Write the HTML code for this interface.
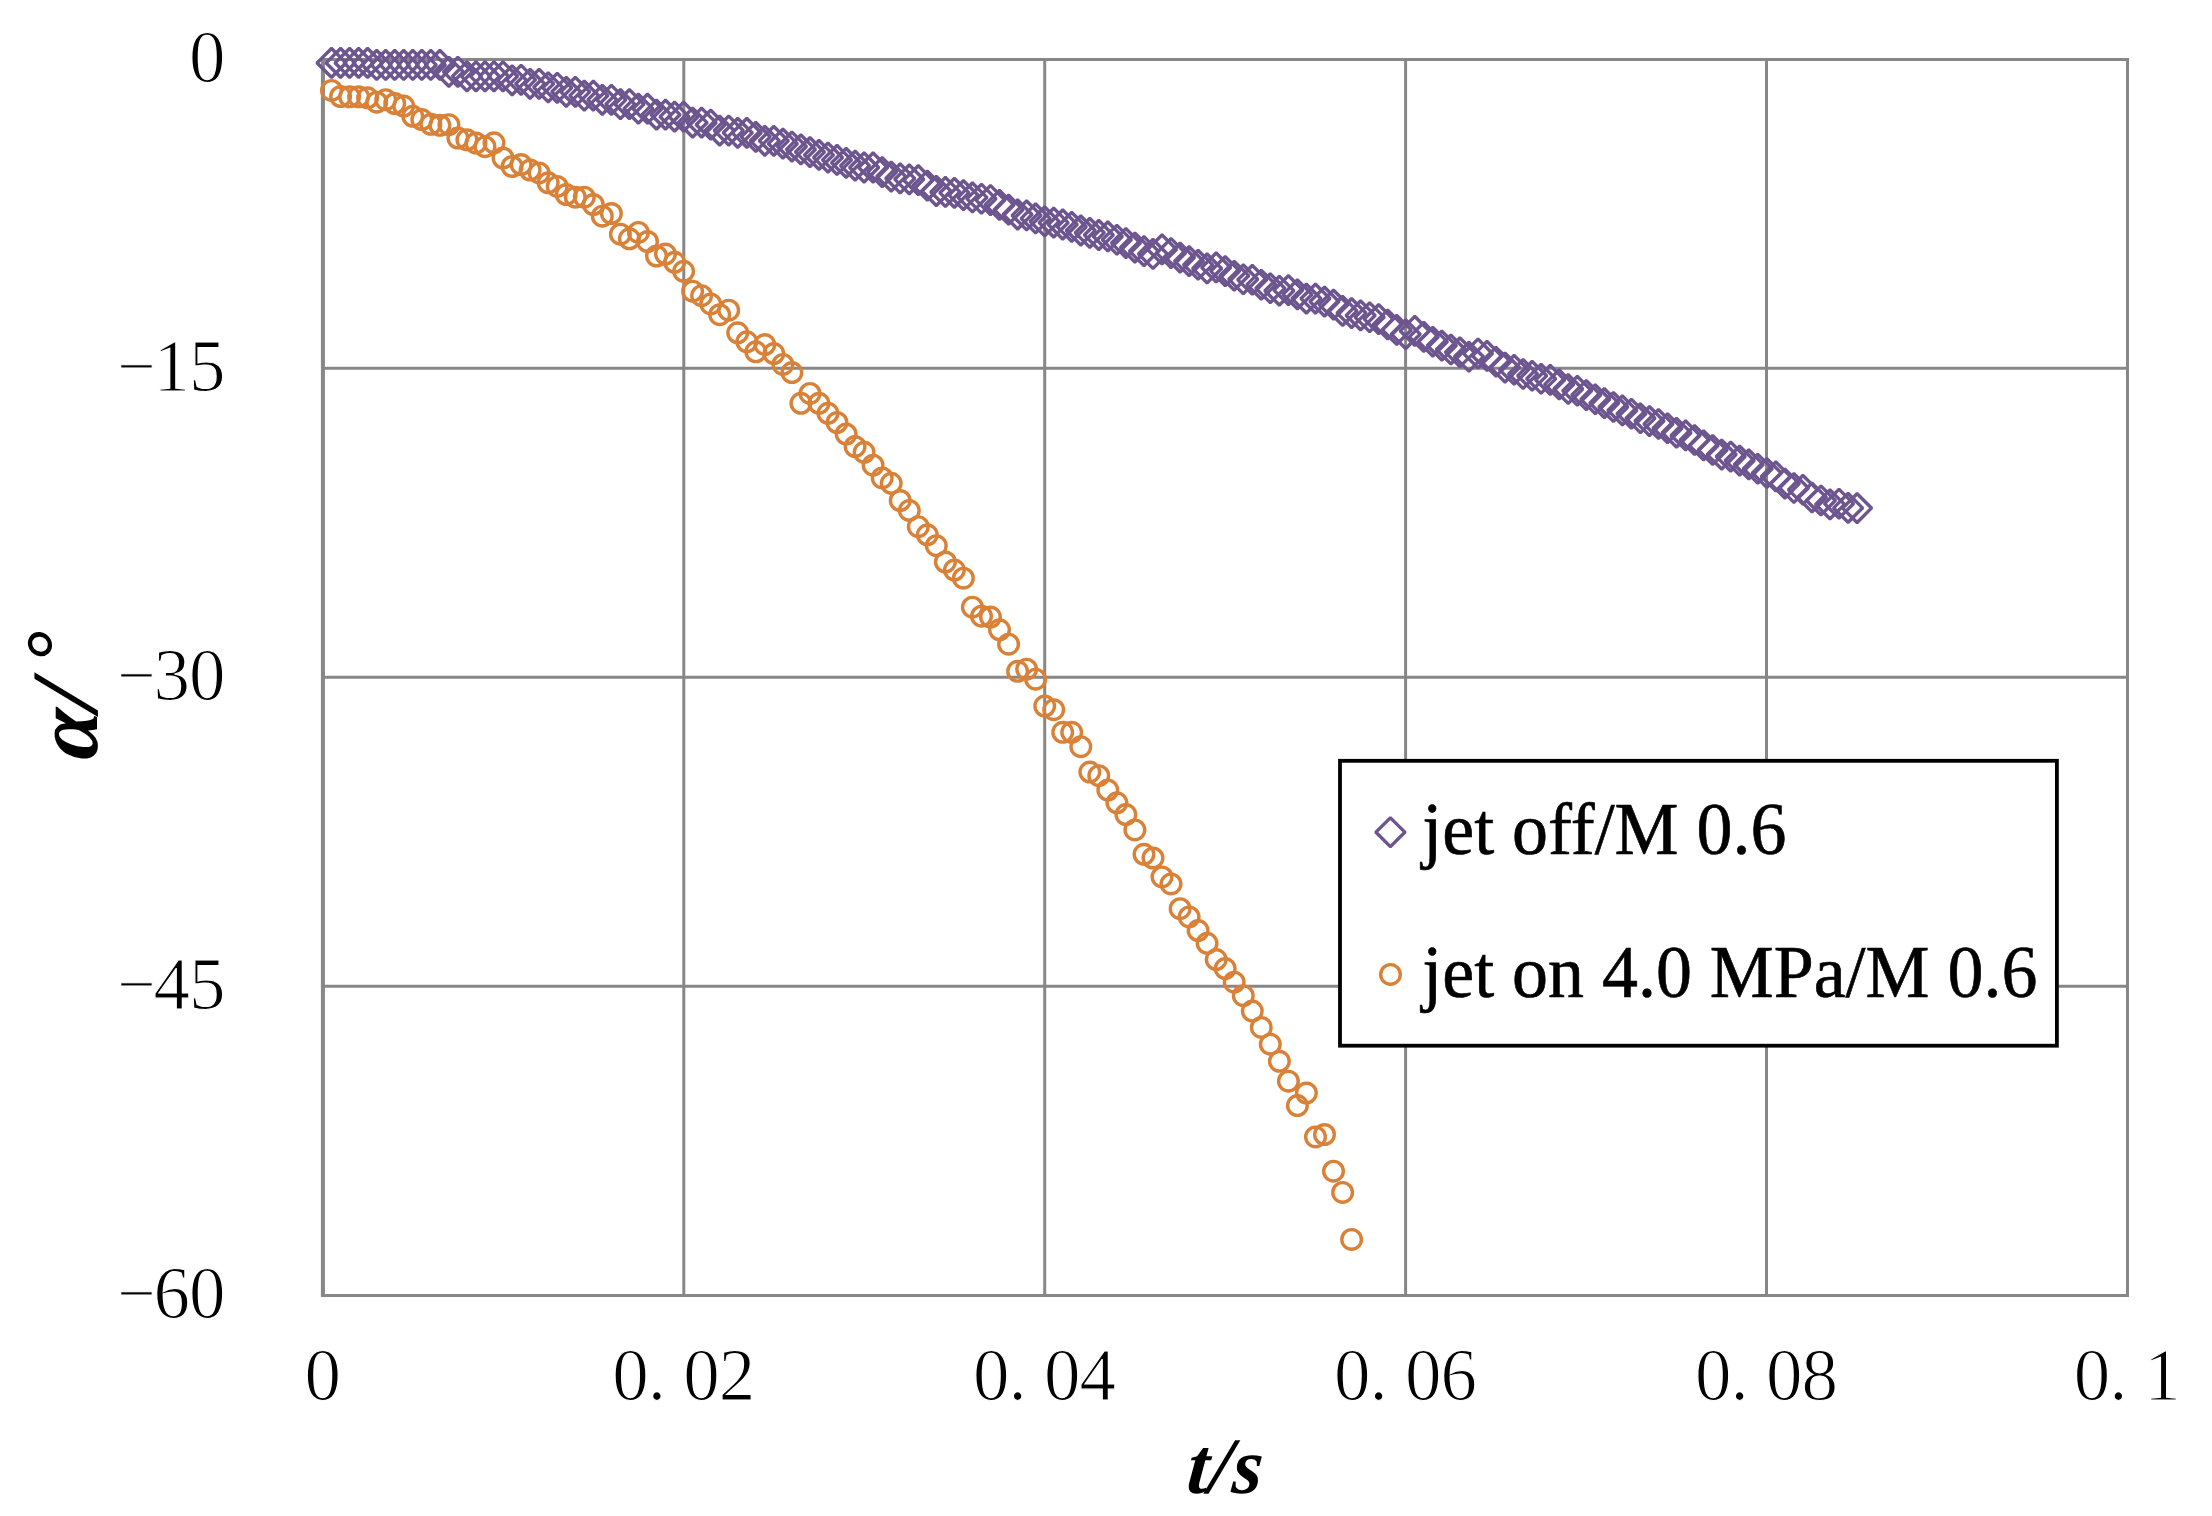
<!DOCTYPE html>
<html lang="en"><head><meta charset="utf-8"><title>α/° vs t/s</title>
<style>
html,body{margin:0;padding:0;background:#fff}
body{width:2212px;height:1516px;overflow:hidden;position:relative}
svg{position:absolute;left:0;top:0;display:block}
text{font-family:"Liberation Serif",serif;fill:#000}
.tk{font-size:73px;stroke:#fff;stroke-width:1.2px}
.lg{font-size:71.9px;stroke:#000;stroke-width:0.6px}
.ti{font-size:77px;font-weight:bold;font-style:italic;letter-spacing:1.2px}
.yt{font-size:90px;font-weight:bold;font-style:italic}
.g{stroke:#878787;stroke-width:3;fill:none}
.d{stroke:#6d558f;stroke-width:3.4;fill:none;stroke-linejoin:miter}
.c{stroke:#da8138;stroke-width:3.4;fill:none}
</style></head><body>
<svg width="2212" height="1516" viewBox="0 0 2212 1516">
<rect width="2212" height="1516" fill="#fff"/>
<g class="g">
<line x1="321.4" y1="59.4" x2="2129.0" y2="59.4"/>
<line x1="321.4" y1="368.2" x2="2129.0" y2="368.2"/>
<line x1="321.4" y1="677.3" x2="2129.0" y2="677.3"/>
<line x1="321.4" y1="986.3" x2="2129.0" y2="986.3"/>
<line x1="321.4" y1="1295.4" x2="2129.0" y2="1295.4"/>
<line x1="322.9" y1="59.4" x2="322.9" y2="1295.4"/>
<line x1="683.8" y1="59.4" x2="683.8" y2="1295.4"/>
<line x1="1044.7" y1="59.4" x2="1044.7" y2="1295.4"/>
<line x1="1405.6" y1="59.4" x2="1405.6" y2="1295.4"/>
<line x1="1766.5" y1="59.4" x2="1766.5" y2="1295.4"/>
<line x1="2127.5" y1="59.4" x2="2127.5" y2="1295.4"/>
</g>
<line x1="322.9" y1="57.9" x2="322.9" y2="1296.9" stroke="#878787" stroke-width="4"/>
<g class="d">
<path d="M331.2 48.8L331.8 48.8L345.7 62.6L345.7 63.2L331.8 77.0L331.2 77.0L317.4 63.2L317.4 62.6Z"/>
<path d="M340.3 48.8L340.9 48.8L354.7 62.6L354.7 63.2L340.9 77.0L340.3 77.0L326.4 63.2L326.4 62.6Z"/>
<path d="M349.3 48.8L349.9 48.8L363.7 62.6L363.7 63.2L349.9 77.0L349.3 77.0L335.4 63.2L335.4 62.6Z"/>
<path d="M358.3 48.8L358.9 48.8L372.8 62.6L372.8 63.2L358.9 77.0L358.3 77.0L344.5 63.2L344.5 62.6Z"/>
<path d="M367.3 48.8L367.9 48.8L381.8 62.6L381.8 63.2L367.9 77.0L367.3 77.0L353.5 63.2L353.5 62.6Z"/>
<path d="M376.4 50.8L377.0 50.8L390.8 64.6L390.8 65.2L377.0 79.1L376.4 79.1L362.5 65.2L362.5 64.6Z"/>
<path d="M385.4 50.8L386.0 50.8L399.8 64.6L399.8 65.2L386.0 79.1L385.4 79.1L371.5 65.2L371.5 64.6Z"/>
<path d="M394.4 50.8L395.0 50.8L408.9 64.6L408.9 65.2L395.0 79.1L394.4 79.1L380.6 65.2L380.6 64.6Z"/>
<path d="M403.4 50.8L404.0 50.8L417.9 64.6L417.9 65.2L404.0 79.1L403.4 79.1L389.6 65.2L389.6 64.6Z"/>
<path d="M412.5 50.8L413.1 50.8L426.9 64.6L426.9 65.2L413.1 79.1L412.5 79.1L398.6 65.2L398.6 64.6Z"/>
<path d="M421.5 50.8L422.1 50.8L435.9 64.6L435.9 65.2L422.1 79.1L421.5 79.1L407.6 65.2L407.6 64.6Z"/>
<path d="M430.5 50.8L431.1 50.8L445.0 64.6L445.0 65.2L431.1 79.1L430.5 79.1L416.7 65.2L416.7 64.6Z"/>
<path d="M439.6 50.8L440.2 50.8L454.0 64.6L454.0 65.2L440.2 79.1L439.6 79.1L425.7 65.2L425.7 64.6Z"/>
<path d="M448.6 57.6L449.2 57.6L463.0 71.5L463.0 72.1L449.2 86.0L448.6 86.0L434.7 72.1L434.7 71.5Z"/>
<path d="M457.6 57.6L458.2 57.6L472.1 71.5L472.1 72.1L458.2 86.0L457.6 86.0L443.8 72.1L443.8 71.5Z"/>
<path d="M466.6 62.1L467.2 62.1L481.1 76.0L481.1 76.6L467.2 90.5L466.6 90.5L452.8 76.6L452.8 76.0Z"/>
<path d="M475.7 62.1L476.3 62.1L490.1 76.0L490.1 76.6L476.3 90.5L475.7 90.5L461.8 76.6L461.8 76.0Z"/>
<path d="M484.7 62.1L485.3 62.1L499.1 76.0L499.1 76.6L485.3 90.5L484.7 90.5L470.8 76.6L470.8 76.0Z"/>
<path d="M493.7 62.1L494.3 62.1L508.2 76.0L508.2 76.6L494.3 90.5L493.7 90.5L479.9 76.6L479.9 76.0Z"/>
<path d="M502.7 62.1L503.3 62.1L517.2 76.0L517.2 76.6L503.3 90.5L502.7 90.5L488.9 76.6L488.9 76.0Z"/>
<path d="M511.8 66.1L512.4 66.1L526.2 80.0L526.2 80.6L512.4 94.5L511.8 94.5L497.9 80.6L497.9 80.0Z"/>
<path d="M520.8 65.6L521.4 65.6L535.2 79.5L535.2 80.1L521.4 94.0L520.8 94.0L506.9 80.1L506.9 79.5Z"/>
<path d="M529.8 69.6L530.4 69.6L544.3 83.5L544.3 84.1L530.4 98.0L529.8 98.0L516.0 84.1L516.0 83.5Z"/>
<path d="M538.8 69.6L539.4 69.6L553.3 83.5L553.3 84.1L539.4 98.0L538.8 98.0L525.0 84.1L525.0 83.5Z"/>
<path d="M547.9 73.1L548.5 73.1L562.3 87.0L562.3 87.6L548.5 101.5L547.9 101.5L534.0 87.6L534.0 87.0Z"/>
<path d="M556.9 73.6L557.5 73.6L571.4 87.5L571.4 88.1L557.5 102.0L556.9 102.0L543.1 88.1L543.1 87.5Z"/>
<path d="M565.9 77.6L566.5 77.6L580.4 91.5L580.4 92.1L566.5 106.0L565.9 106.0L552.1 92.1L552.1 91.5Z"/>
<path d="M575.0 77.6L575.6 77.6L589.4 91.5L589.4 92.1L575.6 106.0L575.0 106.0L561.1 92.1L561.1 91.5Z"/>
<path d="M584.0 81.5L584.6 81.5L598.4 95.4L598.4 96.0L584.6 109.9L584.0 109.9L570.1 96.0L570.1 95.4Z"/>
<path d="M593.0 81.5L593.6 81.5L607.5 95.4L607.5 96.0L593.6 109.9L593.0 109.9L579.2 96.0L579.2 95.4Z"/>
<path d="M602.0 85.6L602.6 85.6L616.5 99.5L616.5 100.1L602.6 114.0L602.0 114.0L588.2 100.1L588.2 99.5Z"/>
<path d="M611.1 85.6L611.7 85.6L625.5 99.5L625.5 100.1L611.7 114.0L611.1 114.0L597.2 100.1L597.2 99.5Z"/>
<path d="M620.1 90.0L620.7 90.0L634.5 103.9L634.5 104.5L620.7 118.4L620.1 118.4L606.2 104.5L606.2 103.9Z"/>
<path d="M629.1 90.0L629.7 90.0L643.6 103.9L643.6 104.5L629.7 118.4L629.1 118.4L615.3 104.5L615.3 103.9Z"/>
<path d="M638.1 94.5L638.7 94.5L652.6 108.4L652.6 109.0L638.7 122.9L638.1 122.9L624.3 109.0L624.3 108.4Z"/>
<path d="M647.2 94.5L647.8 94.5L661.6 108.4L661.6 109.0L647.8 122.9L647.2 122.9L633.3 109.0L633.3 108.4Z"/>
<path d="M656.2 100.5L656.8 100.5L670.6 114.4L670.6 115.0L656.8 128.8L656.2 128.8L642.3 115.0L642.3 114.4Z"/>
<path d="M665.2 100.5L665.8 100.5L679.7 114.4L679.7 115.0L665.8 128.8L665.2 128.8L651.4 115.0L651.4 114.4Z"/>
<path d="M674.3 102.5L674.9 102.5L688.7 116.4L688.7 117.0L674.9 130.8L674.3 130.8L660.4 117.0L660.4 116.4Z"/>
<path d="M683.3 102.5L683.9 102.5L697.7 116.4L697.7 117.0L683.9 130.8L683.3 130.8L669.4 117.0L669.4 116.4Z"/>
<path d="M692.3 108.5L692.9 108.5L706.8 122.4L706.8 123.0L692.9 136.8L692.3 136.8L678.5 123.0L678.5 122.4Z"/>
<path d="M701.3 108.5L701.9 108.5L715.8 122.4L715.8 123.0L701.9 136.8L701.3 136.8L687.5 123.0L687.5 122.4Z"/>
<path d="M710.4 110.5L711.0 110.5L724.8 124.4L724.8 125.0L711.0 138.8L710.4 138.8L696.5 125.0L696.5 124.4Z"/>
<path d="M719.4 116.4L720.0 116.4L733.8 130.3L733.8 130.9L720.0 144.8L719.4 144.8L705.5 130.9L705.5 130.3Z"/>
<path d="M728.4 116.4L729.0 116.4L742.9 130.3L742.9 130.9L729.0 144.8L728.4 144.8L714.6 130.9L714.6 130.3Z"/>
<path d="M737.4 118.7L738.0 118.7L751.9 132.5L751.9 133.1L738.0 147.0L737.4 147.0L723.6 133.1L723.6 132.5Z"/>
<path d="M746.5 118.7L747.1 118.7L760.9 132.5L760.9 133.1L747.1 147.0L746.5 147.0L732.6 133.1L732.6 132.5Z"/>
<path d="M755.5 122.7L756.1 122.7L769.9 136.5L769.9 137.1L756.1 151.0L755.5 151.0L741.6 137.1L741.6 136.5Z"/>
<path d="M764.5 126.7L765.1 126.7L779.0 140.5L779.0 141.1L765.1 155.0L764.5 155.0L750.7 141.1L750.7 140.5Z"/>
<path d="M773.5 126.7L774.1 126.7L788.0 140.5L788.0 141.1L774.1 155.0L773.5 155.0L759.7 141.1L759.7 140.5Z"/>
<path d="M782.6 129.5L783.2 129.5L797.0 143.4L797.0 144.0L783.2 157.8L782.6 157.8L768.7 144.0L768.7 143.4Z"/>
<path d="M791.6 132.4L792.2 132.4L806.1 146.2L806.1 146.8L792.2 160.7L791.6 160.7L777.8 146.8L777.8 146.2Z"/>
<path d="M800.6 135.2L801.2 135.2L815.1 149.1L815.1 149.7L801.2 163.6L800.6 163.6L786.8 149.7L786.8 149.1Z"/>
<path d="M809.7 138.0L810.3 138.0L824.1 151.8L824.1 152.4L810.3 166.3L809.7 166.3L795.8 152.4L795.8 151.8Z"/>
<path d="M818.7 140.7L819.3 140.7L833.1 154.6L833.1 155.2L819.3 169.0L818.7 169.0L804.8 155.2L804.8 154.6Z"/>
<path d="M827.7 143.4L828.3 143.4L842.2 157.3L842.2 157.9L828.3 171.8L827.7 171.8L813.9 157.9L813.9 157.3Z"/>
<path d="M836.7 145.8L837.3 145.8L851.2 159.6L851.2 160.2L837.3 174.1L836.7 174.1L822.9 160.2L822.9 159.6Z"/>
<path d="M845.8 148.7L846.4 148.7L860.2 162.5L860.2 163.1L846.4 177.0L845.8 177.0L831.9 163.1L831.9 162.5Z"/>
<path d="M854.8 151.5L855.4 151.5L869.2 165.4L869.2 166.0L855.4 179.8L854.8 179.8L840.9 166.0L840.9 165.4Z"/>
<path d="M863.8 153.3L864.4 153.3L878.3 167.2L878.3 167.8L864.4 181.7L863.8 181.7L850.0 167.8L850.0 167.2Z"/>
<path d="M872.8 153.3L873.4 153.3L887.3 167.2L887.3 167.8L873.4 181.7L872.8 181.7L859.0 167.8L859.0 167.2Z"/>
<path d="M881.9 157.9L882.5 157.9L896.3 171.8L896.3 172.4L882.5 186.2L881.9 186.2L868.0 172.4L868.0 171.8Z"/>
<path d="M890.9 162.4L891.5 162.4L905.4 176.3L905.4 176.9L891.5 190.8L890.9 190.8L877.1 176.9L877.1 176.3Z"/>
<path d="M899.9 164.2L900.5 164.2L914.4 178.1L914.4 178.7L900.5 192.6L899.9 192.6L886.1 178.7L886.1 178.1Z"/>
<path d="M909.0 165.2L909.6 165.2L923.4 179.0L923.4 179.6L909.6 193.5L909.0 193.5L895.1 179.6L895.1 179.0Z"/>
<path d="M918.0 166.0L918.6 166.0L932.4 179.9L932.4 180.5L918.6 194.3L918.0 194.3L904.1 180.5L904.1 179.9Z"/>
<path d="M927.0 171.4L927.6 171.4L941.5 185.3L941.5 185.9L927.6 199.8L927.0 199.8L913.2 185.9L913.2 185.3Z"/>
<path d="M936.0 176.8L936.6 176.8L950.5 190.7L950.5 191.3L936.6 205.2L936.0 205.2L922.2 191.3L922.2 190.7Z"/>
<path d="M945.1 177.8L945.7 177.8L959.5 191.6L959.5 192.2L945.7 206.1L945.1 206.1L931.2 192.2L931.2 191.6Z"/>
<path d="M954.1 178.7L954.7 178.7L968.5 192.5L968.5 193.1L954.7 207.0L954.1 207.0L940.2 193.1L940.2 192.5Z"/>
<path d="M963.1 181.0L963.7 181.0L977.6 194.8L977.6 195.4L963.7 209.3L963.1 209.3L949.3 195.4L949.3 194.8Z"/>
<path d="M972.1 183.2L972.7 183.2L986.6 197.1L986.6 197.7L972.7 211.6L972.1 211.6L958.3 197.7L958.3 197.1Z"/>
<path d="M981.2 184.6L981.8 184.6L995.6 198.4L995.6 199.1L981.8 212.9L981.2 212.9L967.3 199.1L967.3 198.4Z"/>
<path d="M990.2 185.9L990.8 185.9L1004.6 199.8L1004.6 200.4L990.8 214.2L990.2 214.2L976.3 200.4L976.3 199.8Z"/>
<path d="M999.2 190.8L999.8 190.8L1013.7 204.6L1013.7 205.2L999.8 219.1L999.2 219.1L985.4 205.2L985.4 204.6Z"/>
<path d="M1008.3 195.5L1008.9 195.5L1022.7 209.4L1022.7 210.0L1008.9 223.8L1008.3 223.8L994.4 210.0L994.4 209.4Z"/>
<path d="M1017.3 200.3L1017.9 200.3L1031.7 214.2L1031.7 214.8L1017.9 228.7L1017.3 228.7L1003.4 214.8L1003.4 214.2Z"/>
<path d="M1026.3 201.2L1026.9 201.2L1040.8 215.1L1040.8 215.7L1026.9 229.6L1026.3 229.6L1012.5 215.7L1012.5 215.1Z"/>
<path d="M1035.3 204.2L1035.9 204.2L1049.8 218.1L1049.8 218.7L1035.9 232.6L1035.3 232.6L1021.5 218.7L1021.5 218.1Z"/>
<path d="M1044.4 207.2L1045.0 207.2L1058.8 221.1L1058.8 221.7L1045.0 235.6L1044.4 235.6L1030.5 221.7L1030.5 221.1Z"/>
<path d="M1053.4 208.5L1054.0 208.5L1067.8 222.4L1067.8 223.0L1054.0 236.8L1053.4 236.8L1039.5 223.0L1039.5 222.4Z"/>
<path d="M1062.4 210.3L1063.0 210.3L1076.9 224.2L1076.9 224.8L1063.0 238.7L1062.4 238.7L1048.6 224.8L1048.6 224.2Z"/>
<path d="M1071.4 212.7L1072.0 212.7L1085.9 226.5L1085.9 227.1L1072.0 241.0L1071.4 241.0L1057.6 227.1L1057.6 226.5Z"/>
<path d="M1080.5 216.3L1081.1 216.3L1094.9 230.2L1094.9 230.8L1081.1 244.7L1080.5 244.7L1066.6 230.8L1066.6 230.2Z"/>
<path d="M1089.5 218.7L1090.1 218.7L1103.9 232.5L1103.9 233.1L1090.1 247.0L1089.5 247.0L1075.6 233.1L1075.6 232.5Z"/>
<path d="M1098.5 220.8L1099.1 220.8L1113.0 234.7L1113.0 235.3L1099.1 249.2L1098.5 249.2L1084.7 235.3L1084.7 234.7Z"/>
<path d="M1107.5 222.2L1108.1 222.2L1122.0 236.1L1122.0 236.7L1108.1 250.6L1107.5 250.6L1093.7 236.7L1093.7 236.1Z"/>
<path d="M1116.6 225.6L1117.2 225.6L1131.0 239.4L1131.0 240.1L1117.2 253.9L1116.6 253.9L1102.7 240.1L1102.7 239.4Z"/>
<path d="M1125.6 228.9L1126.2 228.9L1140.1 242.8L1140.1 243.4L1126.2 257.2L1125.6 257.2L1111.8 243.4L1111.8 242.8Z"/>
<path d="M1134.6 233.4L1135.2 233.4L1149.1 247.3L1149.1 247.9L1135.2 261.8L1134.6 261.8L1120.8 247.9L1120.8 247.3Z"/>
<path d="M1143.7 237.0L1144.3 237.0L1158.1 250.9L1158.1 251.5L1144.3 265.3L1143.7 265.3L1129.8 251.5L1129.8 250.9Z"/>
<path d="M1152.7 239.8L1153.3 239.8L1167.1 253.7L1167.1 254.3L1153.3 268.1L1152.7 268.1L1138.8 254.3L1138.8 253.7Z"/>
<path d="M1161.7 235.2L1162.3 235.2L1176.2 249.1L1176.2 249.7L1162.3 263.6L1161.7 263.6L1147.9 249.7L1147.9 249.1Z"/>
<path d="M1170.7 238.9L1171.3 238.9L1185.2 252.8L1185.2 253.4L1171.3 267.2L1170.7 267.2L1156.9 253.4L1156.9 252.8Z"/>
<path d="M1179.8 243.5L1180.4 243.5L1194.2 257.3L1194.2 257.9L1180.4 271.8L1179.8 271.8L1165.9 257.9L1165.9 257.3Z"/>
<path d="M1188.8 247.0L1189.4 247.0L1203.2 260.9L1203.2 261.5L1189.4 275.3L1188.8 275.3L1174.9 261.5L1174.9 260.9Z"/>
<path d="M1197.8 250.7L1198.4 250.7L1212.3 264.5L1212.3 265.1L1198.4 278.9L1197.8 278.9L1184.0 265.1L1184.0 264.5Z"/>
<path d="M1206.8 254.3L1207.4 254.3L1221.3 268.2L1221.3 268.8L1207.4 282.6L1206.8 282.6L1193.0 268.8L1193.0 268.2Z"/>
<path d="M1215.9 253.3L1216.5 253.3L1230.3 267.2L1230.3 267.8L1216.5 281.6L1215.9 281.6L1202.0 267.8L1202.0 267.2Z"/>
<path d="M1224.9 257.0L1225.5 257.0L1239.3 270.8L1239.3 271.4L1225.5 285.2L1224.9 285.2L1211.0 271.4L1211.0 270.8Z"/>
<path d="M1233.9 261.6L1234.5 261.6L1248.4 275.4L1248.4 276.0L1234.5 289.8L1233.9 289.8L1220.1 276.0L1220.1 275.4Z"/>
<path d="M1243.0 265.2L1243.6 265.2L1257.4 279.0L1257.4 279.6L1243.6 293.4L1243.0 293.4L1229.1 279.6L1229.1 279.0Z"/>
<path d="M1252.0 265.7L1252.6 265.7L1266.4 279.5L1266.4 280.1L1252.6 293.9L1252.0 293.9L1238.1 280.1L1238.1 279.5Z"/>
<path d="M1261.0 270.6L1261.6 270.6L1275.5 284.4L1275.5 285.0L1261.6 298.8L1261.0 298.8L1247.2 285.0L1247.2 284.4Z"/>
<path d="M1270.0 274.2L1270.6 274.2L1284.5 288.0L1284.5 288.6L1270.6 302.4L1270.0 302.4L1256.2 288.6L1256.2 288.0Z"/>
<path d="M1279.1 276.6L1279.7 276.6L1293.5 290.4L1293.5 291.0L1279.7 304.8L1279.1 304.8L1265.2 291.0L1265.2 290.4Z"/>
<path d="M1288.1 276.0L1288.7 276.0L1302.5 289.8L1302.5 290.4L1288.7 304.2L1288.1 304.2L1274.2 290.4L1274.2 289.8Z"/>
<path d="M1297.1 280.2L1297.7 280.2L1311.6 294.1L1311.6 294.7L1297.7 308.5L1297.1 308.5L1283.3 294.7L1283.3 294.1Z"/>
<path d="M1306.1 284.5L1306.7 284.5L1320.6 298.3L1320.6 298.9L1306.7 312.8L1306.1 312.8L1292.3 298.9L1292.3 298.3Z"/>
<path d="M1315.2 284.5L1315.8 284.5L1329.6 298.3L1329.6 298.9L1315.8 312.8L1315.2 312.8L1301.3 298.9L1301.3 298.3Z"/>
<path d="M1324.2 287.5L1324.8 287.5L1338.6 301.3L1338.6 301.9L1324.8 315.8L1324.2 315.8L1310.3 301.9L1310.3 301.3Z"/>
<path d="M1333.2 290.5L1333.8 290.5L1347.7 304.3L1347.7 304.9L1333.8 318.8L1333.2 318.8L1319.4 304.9L1319.4 304.3Z"/>
<path d="M1342.3 296.8L1342.9 296.8L1356.7 310.6L1356.7 311.2L1342.9 325.0L1342.3 325.0L1328.4 311.2L1328.4 310.6Z"/>
<path d="M1351.3 299.0L1351.9 299.0L1365.7 312.8L1365.7 313.4L1351.9 327.3L1351.3 327.3L1337.4 313.4L1337.4 312.8Z"/>
<path d="M1360.3 301.2L1360.9 301.2L1374.8 315.1L1374.8 315.7L1360.9 329.5L1360.3 329.5L1346.5 315.7L1346.5 315.1Z"/>
<path d="M1369.3 303.1L1369.9 303.1L1383.8 316.9L1383.8 317.6L1369.9 331.4L1369.3 331.4L1355.5 317.6L1355.5 316.9Z"/>
<path d="M1378.4 305.0L1379.0 305.0L1392.8 318.8L1392.8 319.4L1379.0 333.2L1378.4 333.2L1364.5 319.4L1364.5 318.8Z"/>
<path d="M1387.4 310.4L1388.0 310.4L1401.8 324.2L1401.8 324.8L1388.0 338.6L1387.4 338.6L1373.5 324.8L1373.5 324.2Z"/>
<path d="M1396.4 315.8L1397.0 315.8L1410.9 329.6L1410.9 330.2L1397.0 344.0L1396.4 344.0L1382.6 330.2L1382.6 329.6Z"/>
<path d="M1405.4 320.1L1406.0 320.1L1419.9 333.9L1419.9 334.5L1406.0 348.3L1405.4 348.3L1391.6 334.5L1391.6 333.9Z"/>
<path d="M1414.5 316.8L1415.1 316.8L1428.9 330.6L1428.9 331.2L1415.1 345.0L1414.5 345.0L1400.6 331.2L1400.6 330.6Z"/>
<path d="M1423.5 322.8L1424.1 322.8L1437.9 336.6L1437.9 337.2L1424.1 351.0L1423.5 351.0L1409.6 337.2L1409.6 336.6Z"/>
<path d="M1432.5 327.6L1433.1 327.6L1447.0 341.4L1447.0 342.0L1433.1 355.8L1432.5 355.8L1418.7 342.0L1418.7 341.4Z"/>
<path d="M1441.5 331.5L1442.1 331.5L1456.0 345.3L1456.0 345.9L1442.1 359.8L1441.5 359.8L1427.7 345.9L1427.7 345.3Z"/>
<path d="M1450.6 335.4L1451.2 335.4L1465.0 349.2L1465.0 349.8L1451.2 363.6L1450.6 363.6L1436.7 349.8L1436.7 349.2Z"/>
<path d="M1459.6 338.2L1460.2 338.2L1474.1 352.0L1474.1 352.6L1460.2 366.4L1459.6 366.4L1445.8 352.6L1445.8 352.0Z"/>
<path d="M1468.6 342.7L1469.2 342.7L1483.1 356.5L1483.1 357.1L1469.2 370.9L1468.6 370.9L1454.8 357.1L1454.8 356.5Z"/>
<path d="M1477.7 339.4L1478.3 339.4L1492.1 353.2L1492.1 353.8L1478.3 367.6L1477.7 367.6L1463.8 353.8L1463.8 353.2Z"/>
<path d="M1486.7 341.8L1487.3 341.8L1501.1 355.6L1501.1 356.2L1487.3 370.0L1486.7 370.0L1472.8 356.2L1472.8 355.6Z"/>
<path d="M1495.7 347.6L1496.3 347.6L1510.2 361.4L1510.2 362.1L1496.3 375.9L1495.7 375.9L1481.9 362.1L1481.9 361.4Z"/>
<path d="M1504.7 353.5L1505.3 353.5L1519.2 367.3L1519.2 367.9L1505.3 381.8L1504.7 381.8L1490.9 367.9L1490.9 367.3Z"/>
<path d="M1513.8 355.7L1514.4 355.7L1528.2 369.5L1528.2 370.1L1514.4 383.9L1513.8 383.9L1499.9 370.1L1499.9 369.5Z"/>
<path d="M1522.8 359.9L1523.4 359.9L1537.2 373.7L1537.2 374.3L1523.4 388.1L1522.8 388.1L1508.9 374.3L1508.9 373.7Z"/>
<path d="M1531.8 361.7L1532.4 361.7L1546.3 375.5L1546.3 376.1L1532.4 389.9L1531.8 389.9L1518.0 376.1L1518.0 375.5Z"/>
<path d="M1540.8 364.7L1541.4 364.7L1555.3 378.5L1555.3 379.1L1541.4 392.9L1540.8 392.9L1527.0 379.1L1527.0 378.5Z"/>
<path d="M1549.9 365.8L1550.5 365.8L1564.3 379.6L1564.3 380.2L1550.5 394.0L1549.9 394.0L1536.0 380.2L1536.0 379.6Z"/>
<path d="M1558.9 370.3L1559.5 370.3L1573.3 384.1L1573.3 384.8L1559.5 398.6L1558.9 398.6L1545.0 384.8L1545.0 384.1Z"/>
<path d="M1567.9 374.9L1568.5 374.9L1582.4 388.7L1582.4 389.3L1568.5 403.1L1567.9 403.1L1554.1 389.3L1554.1 388.7Z"/>
<path d="M1577.0 376.7L1577.6 376.7L1591.4 390.5L1591.4 391.1L1577.6 404.9L1577.0 404.9L1563.1 391.1L1563.1 390.5Z"/>
<path d="M1586.0 380.9L1586.6 380.9L1600.4 394.8L1600.4 395.4L1586.6 409.2L1586.0 409.2L1572.1 395.4L1572.1 394.8Z"/>
<path d="M1595.0 385.2L1595.6 385.2L1609.5 399.0L1609.5 399.6L1595.6 413.4L1595.0 413.4L1581.2 399.6L1581.2 399.0Z"/>
<path d="M1604.0 389.0L1604.6 389.0L1618.5 402.8L1618.5 403.4L1604.6 417.3L1604.0 417.3L1590.2 403.4L1590.2 402.8Z"/>
<path d="M1613.1 392.9L1613.7 392.9L1627.5 406.7L1627.5 407.3L1613.7 421.1L1613.1 421.1L1599.2 407.3L1599.2 406.7Z"/>
<path d="M1622.1 396.2L1622.7 396.2L1636.5 410.1L1636.5 410.7L1622.7 424.5L1622.1 424.5L1608.2 410.7L1608.2 410.1Z"/>
<path d="M1631.1 399.6L1631.7 399.6L1645.6 413.4L1645.6 414.0L1631.7 427.8L1631.1 427.8L1617.3 414.0L1617.3 413.4Z"/>
<path d="M1640.1 404.2L1640.7 404.2L1654.6 418.0L1654.6 418.6L1640.7 432.4L1640.1 432.4L1626.3 418.6L1626.3 418.0Z"/>
<path d="M1649.2 407.0L1649.8 407.0L1663.6 420.8L1663.6 421.4L1649.8 435.3L1649.2 435.3L1635.3 421.4L1635.3 420.8Z"/>
<path d="M1658.2 409.9L1658.8 409.9L1672.6 423.7L1672.6 424.3L1658.8 438.1L1658.2 438.1L1644.3 424.3L1644.3 423.7Z"/>
<path d="M1667.2 414.1L1667.8 414.1L1681.7 427.9L1681.7 428.5L1667.8 442.3L1667.2 442.3L1653.4 428.5L1653.4 427.9Z"/>
<path d="M1676.2 418.6L1676.8 418.6L1690.7 432.4L1690.7 433.0L1676.8 446.8L1676.2 446.8L1662.4 433.0L1662.4 432.4Z"/>
<path d="M1685.3 421.2L1685.9 421.2L1699.7 435.1L1699.7 435.7L1685.9 449.5L1685.3 449.5L1671.4 435.7L1671.4 435.1Z"/>
<path d="M1694.3 425.9L1694.9 425.9L1708.8 439.7L1708.8 440.3L1694.9 454.1L1694.3 454.1L1680.5 440.3L1680.5 439.7Z"/>
<path d="M1703.3 431.2L1703.9 431.2L1717.8 445.1L1717.8 445.7L1703.9 459.5L1703.3 459.5L1689.5 445.7L1689.5 445.1Z"/>
<path d="M1712.4 435.9L1713.0 435.9L1726.8 449.7L1726.8 450.3L1713.0 464.1L1712.4 464.1L1698.5 450.3L1698.5 449.7Z"/>
<path d="M1721.4 440.5L1722.0 440.5L1735.8 454.3L1735.8 454.9L1722.0 468.8L1721.4 468.8L1707.5 454.9L1707.5 454.3Z"/>
<path d="M1730.4 442.5L1731.0 442.5L1744.9 456.3L1744.9 456.9L1731.0 470.8L1730.4 470.8L1716.6 456.9L1716.6 456.3Z"/>
<path d="M1739.4 446.5L1740.0 446.5L1753.9 460.3L1753.9 460.9L1740.0 474.8L1739.4 474.8L1725.6 460.9L1725.6 460.3Z"/>
<path d="M1748.5 450.2L1749.1 450.2L1762.9 464.1L1762.9 464.7L1749.1 478.5L1748.5 478.5L1734.6 464.7L1734.6 464.1Z"/>
<path d="M1757.5 454.6L1758.1 454.6L1771.9 468.4L1771.9 469.0L1758.1 482.8L1757.5 482.8L1743.6 469.0L1743.6 468.4Z"/>
<path d="M1766.5 458.9L1767.1 458.9L1781.0 472.7L1781.0 473.3L1767.1 487.1L1766.5 487.1L1752.7 473.3L1752.7 472.7Z"/>
<path d="M1775.5 462.2L1776.1 462.2L1790.0 476.1L1790.0 476.7L1776.1 490.5L1775.5 490.5L1761.7 476.7L1761.7 476.1Z"/>
<path d="M1784.6 469.5L1785.2 469.5L1799.0 483.3L1799.0 483.9L1785.2 497.8L1784.6 497.8L1770.7 483.9L1770.7 483.3Z"/>
<path d="M1793.6 473.9L1794.2 473.9L1808.1 487.7L1808.1 488.3L1794.2 502.1L1793.6 502.1L1779.8 488.3L1779.8 487.7Z"/>
<path d="M1802.6 475.7L1803.2 475.7L1817.1 489.5L1817.1 490.1L1803.2 503.9L1802.6 503.9L1788.8 490.1L1788.8 489.5Z"/>
<path d="M1811.7 483.4L1812.3 483.4L1826.1 497.2L1826.1 497.8L1812.3 511.6L1811.7 511.6L1797.8 497.8L1797.8 497.2Z"/>
<path d="M1820.7 486.4L1821.3 486.4L1835.1 500.2L1835.1 500.8L1821.3 514.6L1820.7 514.6L1806.8 500.8L1806.8 500.2Z"/>
<path d="M1829.7 490.2L1830.3 490.2L1844.2 504.1L1844.2 504.7L1830.3 518.5L1829.7 518.5L1815.9 504.7L1815.9 504.1Z"/>
<path d="M1838.7 489.6L1839.3 489.6L1853.2 503.4L1853.2 504.0L1839.3 517.9L1838.7 517.9L1824.9 504.0L1824.9 503.4Z"/>
<path d="M1847.8 493.8L1848.4 493.8L1862.2 507.6L1862.2 508.2L1848.4 522.0L1847.8 522.0L1833.9 508.2L1833.9 507.6Z"/>
<path d="M1856.8 494.0L1857.4 494.0L1871.2 507.8L1871.2 508.4L1857.4 522.2L1856.8 522.2L1842.9 508.4L1842.9 507.8Z"/>
</g>
<g class="c">
<circle cx="331.5" cy="90.4" r="9.8"/>
<circle cx="340.6" cy="96.5" r="9.8"/>
<circle cx="349.6" cy="96.8" r="9.8"/>
<circle cx="358.6" cy="96.8" r="9.8"/>
<circle cx="367.6" cy="97.8" r="9.8"/>
<circle cx="376.7" cy="102.2" r="9.8"/>
<circle cx="385.7" cy="99.7" r="9.8"/>
<circle cx="394.7" cy="103.5" r="9.8"/>
<circle cx="403.7" cy="106.1" r="9.8"/>
<circle cx="412.8" cy="116.3" r="9.8"/>
<circle cx="421.8" cy="119.6" r="9.8"/>
<circle cx="430.8" cy="124.3" r="9.8"/>
<circle cx="439.9" cy="125.3" r="9.8"/>
<circle cx="448.9" cy="124.7" r="9.8"/>
<circle cx="457.9" cy="138.1" r="9.8"/>
<circle cx="466.9" cy="139.8" r="9.8"/>
<circle cx="476.0" cy="143.0" r="9.8"/>
<circle cx="485.0" cy="146.7" r="9.8"/>
<circle cx="494.0" cy="142.8" r="9.8"/>
<circle cx="503.0" cy="158.0" r="9.8"/>
<circle cx="512.1" cy="166.5" r="9.8"/>
<circle cx="521.1" cy="164.6" r="9.8"/>
<circle cx="530.1" cy="170.1" r="9.8"/>
<circle cx="539.1" cy="172.9" r="9.8"/>
<circle cx="548.2" cy="182.8" r="9.8"/>
<circle cx="557.2" cy="186.4" r="9.8"/>
<circle cx="566.2" cy="194.5" r="9.8"/>
<circle cx="575.3" cy="197.2" r="9.8"/>
<circle cx="584.3" cy="197.2" r="9.8"/>
<circle cx="593.3" cy="204.5" r="9.8"/>
<circle cx="602.3" cy="216.2" r="9.8"/>
<circle cx="611.4" cy="213.5" r="9.8"/>
<circle cx="620.4" cy="234.2" r="9.8"/>
<circle cx="629.4" cy="238.8" r="9.8"/>
<circle cx="638.4" cy="232.4" r="9.8"/>
<circle cx="647.5" cy="241.5" r="9.8"/>
<circle cx="656.5" cy="256.0" r="9.8"/>
<circle cx="665.5" cy="254.1" r="9.8"/>
<circle cx="674.6" cy="262.3" r="9.8"/>
<circle cx="683.6" cy="271.3" r="9.8"/>
<circle cx="692.6" cy="291.2" r="9.8"/>
<circle cx="701.6" cy="295.7" r="9.8"/>
<circle cx="710.7" cy="303.9" r="9.8"/>
<circle cx="719.7" cy="314.7" r="9.8"/>
<circle cx="728.7" cy="310.2" r="9.8"/>
<circle cx="737.7" cy="332.8" r="9.8"/>
<circle cx="746.8" cy="341.8" r="9.8"/>
<circle cx="755.8" cy="351.8" r="9.8"/>
<circle cx="764.8" cy="344.6" r="9.8"/>
<circle cx="773.8" cy="353.6" r="9.8"/>
<circle cx="782.9" cy="364.4" r="9.8"/>
<circle cx="791.9" cy="372.6" r="9.8"/>
<circle cx="800.9" cy="403.3" r="9.8"/>
<circle cx="810.0" cy="393.4" r="9.8"/>
<circle cx="819.0" cy="403.3" r="9.8"/>
<circle cx="828.0" cy="413.3" r="9.8"/>
<circle cx="837.0" cy="422.5" r="9.8"/>
<circle cx="846.1" cy="434.0" r="9.8"/>
<circle cx="855.1" cy="446.5" r="9.8"/>
<circle cx="864.1" cy="452.3" r="9.8"/>
<circle cx="873.1" cy="465.2" r="9.8"/>
<circle cx="882.2" cy="477.9" r="9.8"/>
<circle cx="891.2" cy="483.3" r="9.8"/>
<circle cx="900.2" cy="500.5" r="9.8"/>
<circle cx="909.3" cy="510.4" r="9.8"/>
<circle cx="918.3" cy="526.7" r="9.8"/>
<circle cx="927.3" cy="534.8" r="9.8"/>
<circle cx="936.3" cy="545.7" r="9.8"/>
<circle cx="945.4" cy="562.0" r="9.8"/>
<circle cx="954.4" cy="570.1" r="9.8"/>
<circle cx="963.4" cy="578.2" r="9.8"/>
<circle cx="972.4" cy="607.2" r="9.8"/>
<circle cx="981.5" cy="616.2" r="9.8"/>
<circle cx="990.5" cy="617.1" r="9.8"/>
<circle cx="999.5" cy="629.8" r="9.8"/>
<circle cx="1008.6" cy="644.2" r="9.8"/>
<circle cx="1017.6" cy="671.3" r="9.8"/>
<circle cx="1026.6" cy="669.2" r="9.8"/>
<circle cx="1035.6" cy="679.2" r="9.8"/>
<circle cx="1044.7" cy="706.1" r="9.8"/>
<circle cx="1053.7" cy="709.7" r="9.8"/>
<circle cx="1062.7" cy="732.3" r="9.8"/>
<circle cx="1071.7" cy="732.3" r="9.8"/>
<circle cx="1080.8" cy="746.7" r="9.8"/>
<circle cx="1089.8" cy="772.1" r="9.8"/>
<circle cx="1098.8" cy="775.7" r="9.8"/>
<circle cx="1107.8" cy="790.1" r="9.8"/>
<circle cx="1116.9" cy="802.8" r="9.8"/>
<circle cx="1125.9" cy="814.6" r="9.8"/>
<circle cx="1134.9" cy="829.9" r="9.8"/>
<circle cx="1144.0" cy="854.3" r="9.8"/>
<circle cx="1153.0" cy="858.0" r="9.8"/>
<circle cx="1162.0" cy="876.9" r="9.8"/>
<circle cx="1171.0" cy="883.9" r="9.8"/>
<circle cx="1180.1" cy="908.7" r="9.8"/>
<circle cx="1189.1" cy="916.9" r="9.8"/>
<circle cx="1198.1" cy="930.6" r="9.8"/>
<circle cx="1207.1" cy="943.3" r="9.8"/>
<circle cx="1216.2" cy="959.6" r="9.8"/>
<circle cx="1225.2" cy="968.6" r="9.8"/>
<circle cx="1234.2" cy="982.2" r="9.8"/>
<circle cx="1243.3" cy="995.7" r="9.8"/>
<circle cx="1252.3" cy="1011.1" r="9.8"/>
<circle cx="1261.3" cy="1027.4" r="9.8"/>
<circle cx="1270.3" cy="1044.2" r="9.8"/>
<circle cx="1279.4" cy="1061.3" r="9.8"/>
<circle cx="1288.4" cy="1081.2" r="9.8"/>
<circle cx="1297.4" cy="1105.6" r="9.8"/>
<circle cx="1306.4" cy="1093.0" r="9.8"/>
<circle cx="1315.5" cy="1136.9" r="9.8"/>
<circle cx="1324.5" cy="1134.5" r="9.8"/>
<circle cx="1333.5" cy="1171.2" r="9.8"/>
<circle cx="1342.6" cy="1192.4" r="9.8"/>
<circle cx="1351.6" cy="1239.4" r="9.8"/>
</g>
<rect x="1340" y="760.8" width="716.9" height="284.9" fill="#fff" stroke="#000" stroke-width="3.8"/>
<path class="d" d="M1390.1 818.1L1390.7 818.1L1404.6 831.9L1404.6 832.5L1390.7 846.4L1390.1 846.4L1376.2 832.5L1376.2 831.9Z"/>
<circle class="c" cx="1390.5" cy="974.4" r="9.8"/>
<text class="lg" transform="translate(1422.3 854.2) scale(1 1.02)">jet off/M 0.6</text>
<text class="lg" transform="translate(1422.3 996.6) scale(1 1.02)">jet on 4.0 MPa/M 0.6</text>
<text class="tk" x="188.9" y="82.3">0</text>
<text class="tk" x="117.2 153.4 188.9" y="391.1"><tspan font-size="68" dy="-2.4">−</tspan><tspan dy="2.4">15</tspan></text>
<text class="tk" x="117.2 153.4 188.9" y="700.2"><tspan font-size="68" dy="-2.4">−</tspan><tspan dy="2.4">30</tspan></text>
<text class="tk" x="117.2 153.4 188.9" y="1009.2"><tspan font-size="68" dy="-2.4">−</tspan><tspan dy="2.4">45</tspan></text>
<text class="tk" x="117.2 153.4 188.9" y="1318.3"><tspan font-size="68" dy="-2.4">−</tspan><tspan dy="2.4">60</tspan></text>
<text class="tk" x="304.6" y="1399.7">0</text>
<text class="tk" x="612.2 647.7 683.2 718.7" y="1399.7">0.02</text>
<text class="tk" x="973.1 1008.6 1044.1 1079.6" y="1399.7">0.04</text>
<text class="tk" x="1334.0 1369.5 1405.0 1440.5" y="1399.7">0.06</text>
<text class="tk" x="1694.9 1730.4 1765.9 1801.4" y="1399.7">0.08</text>
<text class="tk" x="2073.7 2109.2 2144.2" y="1399.7">0.1</text>
<text class="ti" transform="translate(1185.5 1493.3) skewX(-5.5) scale(1 1.04)">t/s</text>
<text class="yt" transform="translate(97 761) rotate(-90) skewX(-5)" x="0" y="0">α<tspan font-size="95">/</tspan><tspan dx="16.5" dy="-16" font-size="80">°</tspan></text>
</svg></body></html>
